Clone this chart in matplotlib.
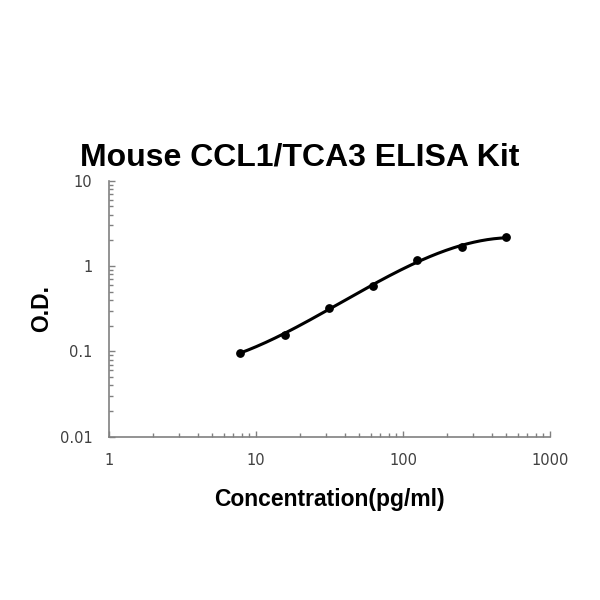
import numpy as np
import matplotlib.pyplot as plt
from matplotlib.ticker import LogLocator, FixedLocator, FixedFormatter

# standard curve points
conc = [7.8, 15.6, 31.25, 62.5, 125, 250, 500]
od = [0.097, 0.157, 0.323, 0.589, 1.17, 1.67, 2.17]

x_ticks = [1, 10, 100, 1000]
x_labels = ['1', '10', '100', '1000']
y_ticks = [0.01, 0.1, 1, 10]
y_labels = ['0.01', '0.1', '1', '10']

# smooth fit in log-log space
lx = np.log10(conc)
ly = np.log10(od)
coef = np.polyfit(lx, ly, 3)
xs = np.linspace(lx[0], lx[-1], 200)
ys = np.polyval(coef, xs)

fig = plt.figure(figsize=(6, 6), dpi=100)
ax = fig.add_axes([0.182, 0.272, 0.735, 0.427])

ax.plot(10 ** xs, 10 ** ys, color='black', lw=2.2)
ax.scatter(conc, od, color='black', s=28, zorder=3)

ax.set_xscale('log')
ax.set_yscale('log')
ax.set_xlim(1, 1000)
ax.set_ylim(0.01, 10)

ax.xaxis.set_major_locator(FixedLocator(x_ticks))
ax.xaxis.set_major_formatter(FixedFormatter(x_labels))
ax.yaxis.set_major_locator(FixedLocator(y_ticks))
ax.yaxis.set_major_formatter(FixedFormatter(y_labels))
ax.xaxis.set_minor_locator(LogLocator(base=10, subs=np.arange(2, 10)))
ax.yaxis.set_minor_locator(LogLocator(base=10, subs=np.arange(2, 10)))

for s in ['top', 'right']:
    ax.spines[s].set_visible(False)
for s in ['left', 'bottom']:
    ax.spines[s].set_color('#808080')
    ax.spines[s].set_linewidth(1.2)

ax.tick_params(which='both', direction='in', color='#808080', width=1,
               labelsize=10.5, labelcolor='#404040')
ax.tick_params(which='major', length=4, pad=12)
ax.tick_params(which='minor', length=3)

ax.set_xlabel('Concentration(pg/ml)', fontsize=16.5, fontweight='bold',
              family='Liberation Sans', labelpad=14)
ax.set_ylabel('O.D.', fontsize=16.5, fontweight='bold',
              family='Liberation Sans', labelpad=0)
ax.yaxis.set_label_coords(-0.127, 0.5)
fig.text(0.5, 0.738, 'Mouse CCL1/TCA3 ELISA Kit', ha='center', va='center',
         fontsize=23, fontweight='bold', family='Liberation Sans')

fig.savefig('out.png')
